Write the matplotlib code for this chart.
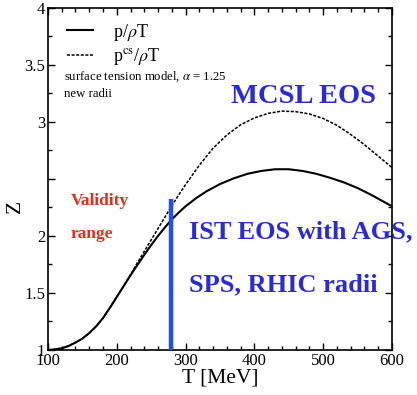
import matplotlib
matplotlib.use("Agg")
import matplotlib.pyplot as plt
from matplotlib.ticker import MultipleLocator

plt.rcParams['font.family'] = ['Liberation Serif', 'DejaVu Serif']
plt.rcParams['mathtext.fontset'] = 'stix'

# Compressibility Z vs temperature
T_pressure = [100, 110, 120, 130, 140, 150, 160, 170, 180, 190, 200, 210, 220, 230,
              240, 250, 260, 270, 280, 290, 300, 315, 330, 350, 370, 390, 410,
              430, 450, 470, 490, 510, 530, 550, 570, 585, 600]
Z_pressure = [1.00, 1.005, 1.015, 1.035, 1.065, 1.10, 1.148, 1.207, 1.28, 1.37, 1.465,
              1.56, 1.655, 1.745, 1.835, 1.92, 2.0, 2.075, 2.145, 2.205, 2.26, 2.33,
              2.39, 2.455, 2.505, 2.545, 2.57, 2.585, 2.585, 2.57, 2.545, 2.51, 2.47,
              2.42, 2.36, 2.31, 2.26]

T_cs = [100, 110, 120, 130, 140, 150, 160, 170, 180, 190, 200, 210, 220, 230, 240,
        250, 260, 270, 280, 290, 300, 320, 340, 360, 380, 400, 420, 440, 460, 480,
        500, 520, 540, 560, 580, 600]
Z_cs = [1.00, 1.005, 1.015, 1.035, 1.065, 1.10, 1.148, 1.207, 1.28, 1.37, 1.465, 1.56,
        1.66, 1.765, 1.865, 1.965, 2.065, 2.165, 2.265, 2.36, 2.45, 2.62, 2.77,
        2.885, 2.975, 3.035, 3.075, 3.095, 3.09, 3.07, 3.03, 2.97, 2.89, 2.80,
        2.70, 2.60]

T_validity = 279
Z_validity_top = 2.32

fig = plt.figure(figsize=(4.17, 3.95), dpi=100)
ax = fig.add_axes([0.115, 0.114, 0.825, 0.866])

ax.plot(T_pressure, Z_pressure, color='black', lw=1.5, label=r'p/$\rho$T')
ax.plot(T_cs, Z_cs, color='black', lw=1.1, linestyle=(0, (2, 1)),
        label=r'p$^{\mathrm{cs}}$/$\rho$T')
ax.plot([T_validity, T_validity], [1.0, Z_validity_top], color='#1f4fef',
        lw=3.2, solid_capstyle='butt', zorder=3)

ax.set_xlim(100, 600)
ax.set_ylim(1, 4)
ax.xaxis.set_major_locator(MultipleLocator(100))
ax.xaxis.set_minor_locator(MultipleLocator(20))
ax.yaxis.set_minor_locator(MultipleLocator(0.25))
ax.set_yticks([1, 1.5, 2, 2.5, 3, 3.5, 4])
ax.set_yticklabels(['1', '1.5', '2', '', '3', '3.5', '4'])
ax.tick_params(which='both', direction='in', top=True, right=True,
               labelsize=12, pad=2)
ax.tick_params(which='major', length=5, width=1)
ax.tick_params(which='minor', length=3, width=1)
for s in ax.spines.values():
    s.set_linewidth(1.2)

ax.set_xlabel('T [MeV]', fontsize=15.5, labelpad=0)
ax.set_ylabel('Z', fontsize=15.5)
ax.yaxis.set_label_coords(-0.068, 0.42)

leg = ax.legend(loc='upper left', bbox_to_anchor=(0.055, 0.96), frameon=False,
                fontsize=13, handlelength=1.45, handletextpad=1.1,
                labelspacing=0.2, borderaxespad=0, borderpad=0)

ax.text(0.047, 0.798, r'surface tension model, $\alpha$ = 1.25',
        transform=ax.transAxes, fontsize=9.2, va='center')
ax.text(0.047, 0.748, 'new radii', transform=ax.transAxes, fontsize=9.2,
        va='center')

ax.text(0.742, 0.722, 'MCSL EOS', transform=ax.transAxes, fontsize=20.5,
        fontweight='bold', color='#2a2ad8', ha='center', va='baseline')
ax.text(0.41, 0.327, 'IST EOS with AGS,', transform=ax.transAxes, fontsize=19,
        fontweight='bold', color='#2a2ad8', ha='left', va='baseline',
        clip_on=False)
ax.text(0.41, 0.172, 'SPS, RHIC radii', transform=ax.transAxes, fontsize=19,
        fontweight='bold', color='#2a2ad8', ha='left', va='baseline')

ax.text(0.065, 0.424, 'Validity', transform=ax.transAxes, fontsize=12.5,
        fontweight='bold', color='#e0301a', ha='left', va='baseline')
ax.text(0.065, 0.327, 'range', transform=ax.transAxes, fontsize=12.5,
        fontweight='bold', color='#e0301a', ha='left', va='baseline')

fig.savefig('out.png', dpi=100)
